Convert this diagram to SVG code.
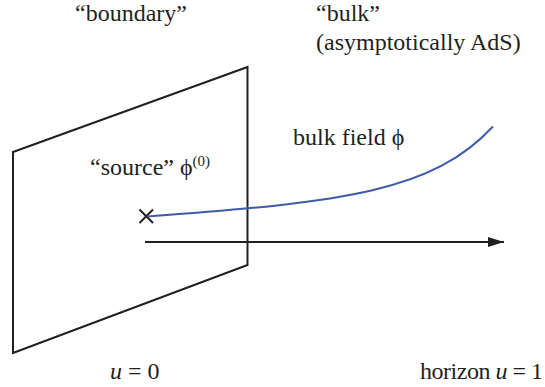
<svg xmlns="http://www.w3.org/2000/svg" width="545" height="387" viewBox="0 0 545 387">
<style>
.ln{fill:none;stroke:#231f20;stroke-width:2}
.field{fill:none;stroke:#3d5ba9;stroke-width:2}
</style>
<defs>
<marker id="ah" markerWidth="16" markerHeight="10" refX="16" refY="5" orient="auto" markerUnits="userSpaceOnUse">
<path d="M0,0 L16,5 L0,10 Z" fill="#231f20"/>
</marker>
</defs>
<rect width="545" height="387" fill="#ffffff"/>
<g id="boundary-plane">
<path class="ln" d="M13,152 L247.5,67 L247.5,265 L13,353 Z"/>
</g>
<g id="source">
<path class="ln" d="M139.5,209.5 L153,223 M153,209.5 L139.5,223"/>
</g>
<g id="connectors">
<path class="field" d="M147,216.5 C347,202 433,191 493,126.5"/>
<line class="ln" x1="145" y1="242" x2="504" y2="242" marker-end="url(#ah)"/>
</g>
<g id="labels" fill="#231f20">
<text x="75" y="21" font-family="Liberation Serif" font-size="24">“boundary”</text>
<text x="316" y="21" font-family="Liberation Serif" font-size="24">“bulk”</text>
<text x="316" y="50" font-family="Liberation Serif" font-size="24">(asymptotically AdS)</text>
<text x="90" y="175" font-family="Liberation Serif" font-size="24">“source” ϕ<tspan font-size="15" dy="-9">(0)</tspan></text>
<text x="293" y="145" font-family="Liberation Serif" font-size="24">bulk field ϕ</text>
<text x="110" y="379" font-family="Liberation Serif" font-size="24"><tspan font-style="italic">u</tspan> = 0</text>
<text x="420" y="379" font-family="Liberation Serif" font-size="24" textLength="123" lengthAdjust="spacing">horizon <tspan font-style="italic">u</tspan> = 1</text>
</g>
</svg>
